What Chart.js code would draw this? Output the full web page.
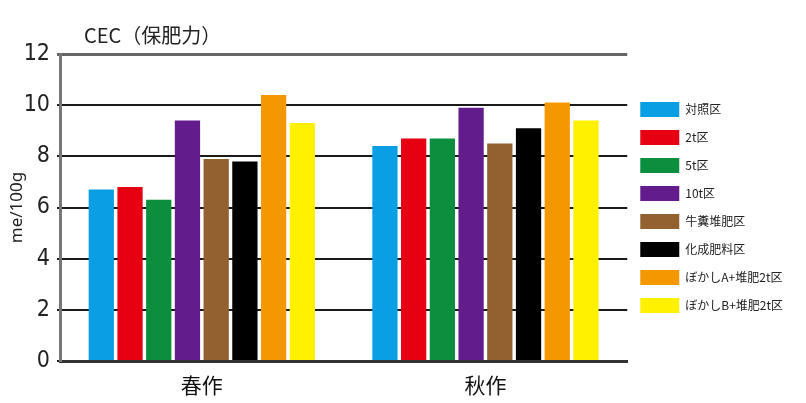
<!DOCTYPE html>
<html>
<head>
<meta charset="utf-8">
<script src="https://cdn.jsdelivr.net/npm/chart.js@4"></script>
<style>
  html, body { margin: 0; padding: 0; background: #fff; }
  #wrap { width: 806px; height: 403px; }
</style>
</head>
<body>
<div id="wrap"><canvas id="cec"></canvas></div>
<script>
const seasons = ['春作', '秋作'];
const plots = ['対照区', '2t区', '5t区', '10t区', '牛糞堆肥区', '化成肥料区', 'ぼかしA+堆肥2t区', 'ぼかしB+堆肥2t区'];
const colors = ['#0a9fe4', '#e60012', '#0b8f3e', '#621c8c', '#93612f', '#000000', '#f39800', '#fff100'];
const spring = [6.7, 6.8, 6.3, 9.4, 7.9, 7.8, 10.4, 9.3];
const autumn = [8.4, 8.7, 8.7, 9.9, 8.5, 9.1, 10.1, 9.4];
const yTicks = [0, 2, 4, 6, 8, 10, 12];

const jp = '"Noto Sans CJK JP", "Noto Sans", sans-serif';

// title sits a bit in from the axis, so draw it ourselves
const titlePlugin = {
  id: 'cecTitle',
  afterDraw(chart) {
    const c = chart.ctx;
    c.save();
    c.font = '20px ' + jp;
    c.fillStyle = '#222';
    c.textBaseline = 'middle';
    c.fillText('CEC（保肥力）', chart.chartArea.left + 24, 35);
    c.restore();
  }
};

const ctx = document.getElementById('cec').getContext('2d');
new Chart(ctx, {
  type: 'bar',
  data: {
    labels: seasons,
    datasets: plots.map((name, i) => ({
      label: name,
      data: [spring[i], autumn[i]],
      backgroundColor: colors[i],
      borderWidth: 0,
      barPercentage: 0.88,
      categoryPercentage: 0.81
    }))
  },
  options: {
    responsive: true,
    maintainAspectRatio: false,
    animation: false,
    layout: { padding: { top: 54, right: 13, bottom: 0, left: 0 } },
    plugins: {
      tooltip: { enabled: false },
      legend: {
        position: 'right',
        fullSize: false,
        labels: {
          boxWidth: 39,
          boxHeight: 15,
          padding: 13,
          color: '#222',
          font: { family: jp, size: 12 }
        }
      }
    },
    scales: {
      x: {
        afterFit: (scale) => { scale.height = 42; },
        grid: { display: false, drawTicks: false },
        border: { color: '#333', width: 3 },
        ticks: { color: '#111', padding: 11, font: { family: jp, size: 21 } }
      },
      y: {
        min: 0,
        max: 12,
        afterFit: (scale) => { scale.width = 60; },
        afterBuildTicks: (scale) => { scale.ticks = yTicks.map(v => ({ value: v })); },
        grid: {
          color: (c) => c.tick && c.tick.value === 12 ? '#666' : '#1a1a1a',
          lineWidth: (c) => c.tick && c.tick.value === 12 ? 3 : 2,
          tickLength: 3
        },
        border: { color: '#777', width: 3 },
        ticks: {
          color: '#222',
          padding: 7,
          font: { family: '"Liberation Sans Narrow", "DejaVu Sans Condensed", sans-serif', size: 23 }
        },
        title: {
          display: true,
          text: 'me/100g',
          color: '#222',
          padding: { top: 7, bottom: 0 },
          font: { family: '"Noto Sans", sans-serif', size: 17 }
        }
      }
    }
  },
  plugins: [titlePlugin]
});
</script>
</body>
</html>
